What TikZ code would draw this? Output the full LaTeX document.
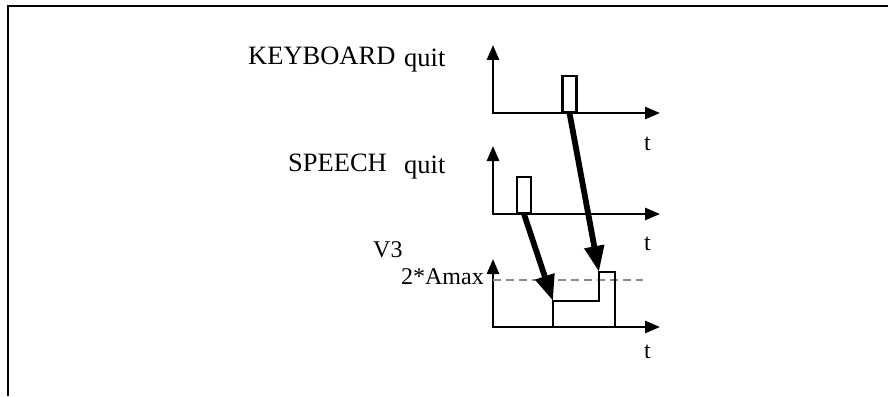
\documentclass[tikz,border=0pt]{standalone}
\usepackage{fontspec}
\setmainfont{Liberation Serif}
\usetikzlibrary{arrows.meta,positioning}
\definecolor{sigink}{HTML}{000000}
\definecolor{sigdash}{HTML}{8A8A8A}
\tikzset{
  sig/.style={font=\fontsize{24}{26}\selectfont, text=sigink},
  sigbig/.style={font=\fontsize{26.5}{28}\selectfont, text=sigink},
  siglbl/.style={inner sep=0pt, anchor=base west},
  sigaxis/.style={-{Triangle[length=15pt,width=12pt]}, line width=2.7pt, draw=sigink, line cap=rect},
  sigpulse/.style={draw=sigink, line width=2.2pt, minimum width=14pt, minimum height=36pt,
    inner sep=0pt, anchor=south},
  sigarr/.style={-{Triangle[length=26pt,width=19pt]}, line width=5.8pt, draw=sigink},
  sigstep/.style={line width=2.4pt, draw=sigink},
  siglevel/.style={dash pattern=on 8pt off 5pt, line width=2.2pt, draw=sigdash},
  sigframe/.style={line width=2.8pt, draw=sigink},
}

\begin{document}
\begin{tikzpicture}[x=1pt, y=-1pt]
  \useasboundingbox (0,0) rectangle (888,396);
  % frame, cut off at right and bottom
  \draw[sigframe] (8,396) -- (8,6) -- (888,6);
  % three time axes
  \foreach \nm/\yb/\yt in {kb/113/150, sp/214/250, vt/327/358} {
    \coordinate (\nm0) at (493,\yb);
    \draw[sigaxis] (\nm0) -- ++(0,-68);
    \draw[sigaxis] (\nm0) -- ++(167,0);
    \node[sig, siglbl] (\nm t) at (644,\yt) {t};
  }
  \node[sigbig, siglbl] (kbname) at (248,64) {KEYBOARD};
  \node[sigbig, siglbl] (kbquit) at (404,66.5) {quit};
  \node[sigbig, siglbl] (spname) at (288,171) {SPEECH};
  \node[sigbig, siglbl] (spquit) at (404,173) {quit};
  \node[sig, siglbl] (vtname) at (373,257) {V3};
  \node[sig, inner sep=0pt, anchor=base east] (vtmax) at (484,284) {2*Amax};
  % pulses
  \node[sigpulse] (kbpulse) at (569.5,113) {};
  \node[sigpulse] (sppulse) at (524,214) {};
  % V3 response
  \coordinate (vtA) at (553,301);
  \coordinate (vtB) at (599,272);
  \coordinate (vtC) at (615,272);
  \draw[siglevel] (vt0 |- 0,280) -- (643,280);
  \draw[sigstep] (vtA |- vt0) -- (vtA) -- (vtA -| vtB) -- (vtB) -- (vtC) -- (vtC |- vt0);
  \draw[sigarr] (kbpulse.south) -- (vtB);
  \draw[sigarr] (sppulse.south) -- (vtA);
\end{tikzpicture}
\end{document}
